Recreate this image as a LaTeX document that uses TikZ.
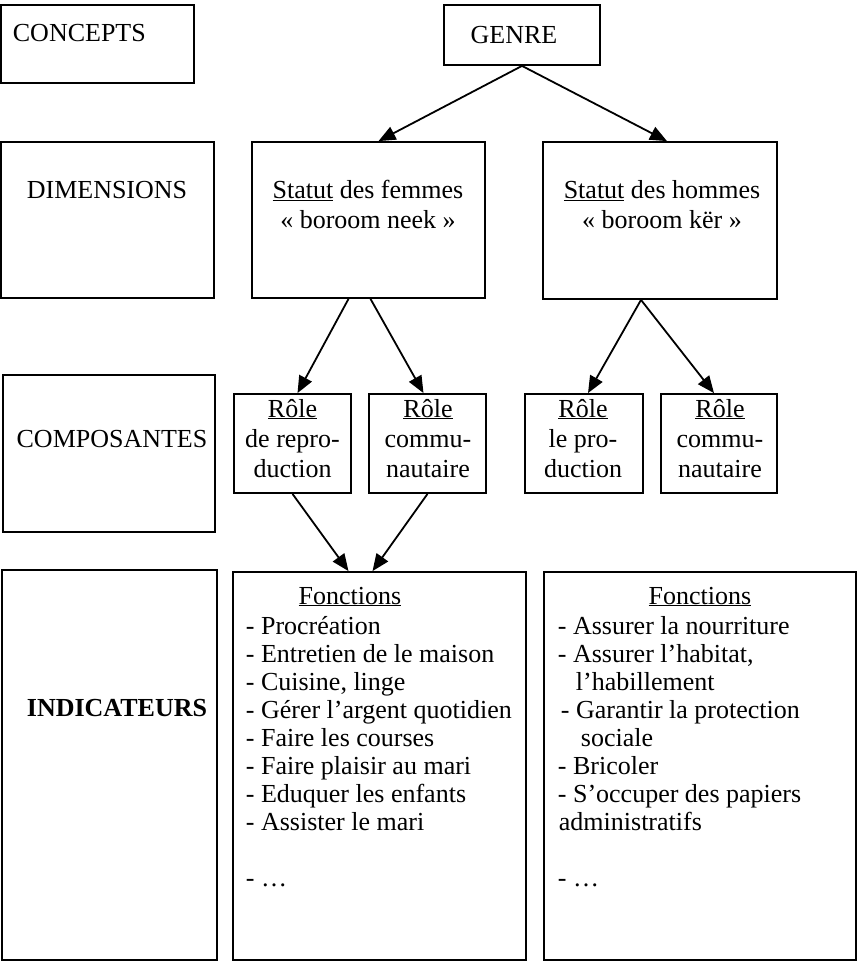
\documentclass[tikz,border=0pt]{standalone}
\usepackage{fontspec}
\setmainfont{Liberation Serif}
\usetikzlibrary{arrows.meta}

\begin{document}
\begin{tikzpicture}[x=1pt, y=-1pt, line width=1.8pt, >={Triangle[length=17pt,width=14pt]}, font=\fontsize{26}{30}\selectfont,
box/.style={draw, rectangle, inner sep=0pt},
label text/.style={inner sep=0pt, anchor=base},
list text/.style={inner sep=0pt, anchor=base west, align=left, font=\fontsize{26}{28}\selectfont}]%
\useasboundingbox (0,0) rectangle (860,965);
\begin{scope}
\node[box, minimum width=193pt, minimum height=78pt] (concepts) at (97.5,44) {};
\node[box, minimum width=156pt, minimum height=60pt] (genre) at (522,35) {};
\node[box, minimum width=213pt, minimum height=156pt] (dimensions) at (107.5,220) {};
\node[box, minimum width=233pt, minimum height=156pt] (femmes) at (368.5,220) {};
\node[box, minimum width=234pt, minimum height=157pt] (hommes) at (660,220.5) {};
\node[box, minimum width=212pt, minimum height=157pt] (composantes) at (109,453.5) {};
\node[box, minimum width=117pt, minimum height=99pt] (role1) at (292.5,443.5) {};
\node[box, minimum width=117pt, minimum height=99pt] (role2) at (427.5,443.5) {};
\node[box, minimum width=118pt, minimum height=99pt] (role3) at (584,443.5) {};
\node[box, minimum width=116pt, minimum height=99pt] (role4) at (719,443.5) {};
\node[box, minimum width=215pt, minimum height=390pt] (indicateurs) at (109.5,765) {};
\node[box, minimum width=293pt, minimum height=388pt] (fonctF) at (379.5,766) {};
\node[box, minimum width=312pt, minimum height=388pt] (fonctH) at (700,766) {};
%\node[box] () at (,) {};
\end{scope}
\begin{scope}
\node[label text, anchor=base west] (conceptsText) at (12,42) {CONCEPTS};
\node[label text] (genreText) at (514,44) {GENRE};
\node[label text] (dimText) at (107,199) {DIMENSIONS};
\node[label text, align=center] (femmesText) at (368,229) {\underline{Statut} des femmes\\« boroom neek »};
\node[label text, align=center] (hommesText) at (662,229) {\underline{Statut} des hommes\\« boroom kër »};
\node[label text] (compText) at (112,447) {COMPOSANTES};
\node[label text, align=center] (role1Text) at (292.5,477) {\underline{Rôle}\\de repro-\\duction};
\node[label text, align=center] (role2Text) at (428,477) {\underline{Rôle}\\commu-\\nautaire};
\node[label text, align=center] (role3Text) at (583,477) {\underline{Rôle}\\le pro-\\duction};
\node[label text, align=center] (role4Text) at (720,477) {\underline{Rôle}\\commu-\\nautaire};
\node[label text, font=\fontsize{26}{30}\selectfont\bfseries] (indText) at (117,716) {INDICATEURS};
\node[label text] (fonctFHead) at (350,604) {\underline{Fonctions}};
\node[label text] (fonctHHead) at (700,604) {\underline{Fonctions}};
\node[list text] (fonctFList) at (245,886) {- Procréation\\- Entretien de le maison\\- Cuisine, linge\\- Gérer l’argent quotidien\\- Faire les courses\\- Faire plaisir au mari\\- Eduquer les enfants\\- Assister le mari\\[28pt]- …};
\node[list text] (fonctHList) at (557,886) {- Assurer la nourriture\\- Assurer l’habitat,\\\hspace*{18pt}l’habillement\\\hspace*{3pt}- Garantir la protection\\\hspace*{23pt}sociale\\- Bricoler\\- S’occuper des papiers\\\hspace*{1pt}administratifs\\[28pt]- …};
\end{scope}
\begin{scope}
\draw (genre.south) edge[->] ([xshift=10pt]femmes.north);
\draw (genre.south) edge[->] ([xshift=7pt]hommes.north);
\draw ([xshift=-20pt]femmes.south) edge[->] ([xshift=5pt]role1.north);
\draw ([xshift=2pt]femmes.south) edge[->] ([xshift=-4pt]role2.north);
\draw ([xshift=-19pt]hommes.south) edge[->] ([xshift=4pt]role3.north);
\draw ([xshift=-19pt]hommes.south) edge[->] ([xshift=-5pt]role4.north);
\draw (role1.south) edge[->] ([xshift=-31pt]fonctF.north);
\draw (role2.south) edge[->] ([xshift=-7pt]fonctF.north);
\end{scope}
\end{tikzpicture}
\end{document}
